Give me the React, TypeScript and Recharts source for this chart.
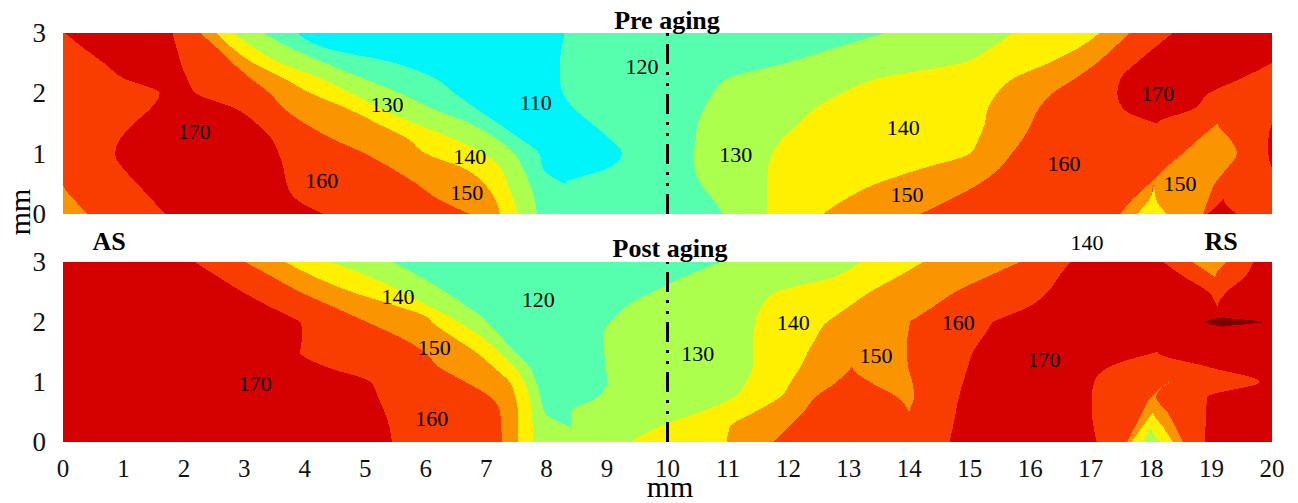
import React from "react";
import { ComposedChart, Area, XAxis, YAxis, ReferenceLine, ReferenceDot, CartesianGrid } from "recharts";

// depth levels (mm) at which the contour edges were read
const preDepth = [0, 0.25, 0.5, 0.75, 1, 1.25, 1.5, 1.75, 2, 2.25, 2.5, 2.75, 3];
const postDepth = [0, 0.25, 0.5, 0.75, 1, 1.25, 1.5, 1.75, 1.92, 2, 2.08, 2.25, 2.5, 2.75, 3];

// Pre aging: x position (mm) of each contour edge, left to right, per depth level
const pre00 = [0.41, 0.17, 0, 0, 0, 0, 0, 0, 0, 0, 0, 0, 0];
const pre01 = [1.69, 1.46, 1.23, 1.0, 0.86, 0.95, 1.17, 1.45, 1.6, 1.0, 0.68, 0.34, 0.03];
const pre02 = [4.3, 3.85, 3.7, 3.65, 3.57, 3.45, 3.2, 2.85, 2.2, 2.05, 1.95, 1.88, 1.81];
const pre03 = [6.73, 6.2, 5.85, 5.45, 5.0, 4.45, 4.0, 3.65, 3.42, 3.1, 2.81, 2.55, 2.27];
const pre04 = [7.23, 7.15, 6.97, 6.65, 6.0, 5.7, 5.2, 4.7, 4.1, 3.65, 3.15, 2.8, 2.54];
const pre05 = [7.53, 7.45, 7.35, 7.25, 6.96, 6.45, 5.82, 5.25, 4.78, 4.26, 3.6, 3.16, 2.81];
const pre06 = [7.84, 7.8, 7.72, 7.62, 7.47, 7.17, 6.74, 6.1, 5.58, 4.96, 4.34, 3.77, 3.31];
const pre07 = [8.3, 8.3, 8.3, 7.94, 7.88, 7.56, 7.2, 6.83, 6.48, 6.15, 5.5, 4.35, 3.87];
const pre08 = [8.3, 8.3, 8.3, 9.0, 9.25, 9.04, 8.75, 8.45, 8.27, 8.22, 8.22, 8.25, 8.3];
const pre09 = [10.92, 10.75, 10.55, 10.45, 10.43, 10.47, 10.5, 10.6, 10.75, 11.0, 11.95, 12.76, 13.6];
const pre10 = [11.65, 11.65, 11.65, 11.66, 11.74, 11.9, 12.17, 12.45, 12.87, 13.5, 14.85, 15.35, 15.7];
const pre11 = [12.57, 12.95, 13.45, 14.2, 15.0, 15.15, 15.25, 15.3, 15.45, 15.73, 16.3, 16.8, 17.15];
const pre12 = [14.18, 14.7, 15.16, 15.49, 15.69, 15.88, 16.02, 16.14, 16.37, 16.75, 17.1, 17.38, 17.65];
const pre13 = [17.2, 17.3, 17.5, 17.8, 18.1, 18.1, 18.1, 17.53, 17.44, 17.5, 17.75, 18.05, 18.36];
const pre14 = [17.2, 17.3, 17.5, 17.8, 18.1, 18.1, 18.1, 18.72, 18.95, 19.5, 20, 20, 20];
const pre15 = [17.49, 17.7, 17.97, 18.22, 18.52, 18.8, 19.1, 19.3, 19.5, 19.8, 20, 20, 20];
const pre16 = [17.77, 17.98, 18.05, 18.4, 18.9, 19.1, 19.1, 19.3, 19.5, 19.8, 20, 20, 20];
const pre17 = [18.26, 18.08, 18.05, 18.4, 18.9, 19.1, 19.1, 19.3, 19.5, 19.8, 20, 20, 20];
const pre18 = [18.86, 18.95, 19.05, 19.25, 19.42, 19.3, 19.1, 19.3, 19.5, 19.8, 20, 20, 20];
const pre19 = [18.94, 19.2, 19.5, 19.6, 19.7, 19.7, 19.5, 19.5, 19.6, 19.8, 20, 20, 20];
const pre20 = [19.42, 19.2, 19.5, 19.6, 19.7, 19.7, 19.5, 19.5, 19.6, 19.8, 20, 20, 20];
const pre21 = [20, 20, 20, 20, 19.94, 19.94, 20, 20, 20, 20, 20, 20, 20];
// hardness class of each band between the edges
const preBands = [150, 160, 170, 160, 150, 140, 130, 120, 110, 120, 130, 140, 150, 160, 170, 160, 150, 140, 150, 160, 170, 160, 170];

// Post aging
const post00 = [5.44, 5.4, 5.32, 5.21, 5.09, 4.36, 3.92, 3.96, 3.95, 3.92, 3.78, 3.43, 2.97, 2.57, 2.18];
const post01 = [7.26, 7.25, 7.23, 7.07, 6.66, 6.22, 5.98, 5.57, 5.2, 5.03, 4.85, 4.48, 3.92, 3.47, 3.01];
const post02 = [7.53, 7.53, 7.53, 7.48, 7.39, 7.12, 6.83, 6.45, 6.2, 6.1, 6.03, 5.57, 4.78, 4.17, 3.67];
const post03 = [7.78, 7.77, 7.75, 7.72, 7.63, 7.47, 7.2, 6.93, 6.67, 6.53, 6.4, 6.07, 5.62, 5.08, 4.42];
const post04 = [8.4, 8.4, 7.96, 7.9, 7.82, 7.72, 7.48, 7.25, 7.09, 7.01, 6.94, 6.7, 6.33, 5.92, 5.46];
const post05 = [8.4, 8.4, 8.4, 8.85, 9.0, 8.98, 8.95, 8.93, 8.98, 9.05, 9.12, 9.3, 9.74, 10.27, 10.87];
const post06 = [9.38, 9.85, 10.55, 11.1, 11.3, 11.41, 11.41, 11.42, 11.44, 11.46, 11.47, 11.55, 11.8, 12.75, 13.18];
const post07 = [10.98, 11.03, 11.44, 11.87, 12.04, 12.2, 12.32, 12.47, 12.56, 12.64, 12.75, 12.99, 13.35, 13.8, 14.23];
const post08 = [11.75, 12.0, 12.25, 12.45, 12.8, 13.05, 13.2, 13.4, 13.5, 13.55, 13.6, 13.75, 14.0, 14.3, 14.9];
const post09 = [14.0, 14.0, 14.0, 13.8, 13.35, 13.05, 13.2, 13.4, 13.5, 13.55, 13.6, 13.75, 14.0, 14.3, 14.9];
const post10 = [14.0, 14.0, 14.0, 14.08, 14.05, 13.98, 13.96, 13.97, 14.0, 14.01, 14.13, 14.39, 14.76, 15.28, 15.83];
const post11 = [14.67, 14.72, 14.77, 14.82, 14.89, 14.97, 15.05, 15.22, 15.33, 15.38, 15.57, 15.97, 16.29, 16.47, 16.66];
const post12 = [17.1, 17.05, 17.02, 17.02, 17.06, 17.3, 18.1, 19.2, 19.2, 18.89, 19.2, 19.1, 18.95, 18.55, 18.2];
const post13 = [17.6, 17.73, 17.86, 18.0, 18.3, 18.3, 18.1, 19.2, 19.2, 18.89, 19.2, 19.1, 19.1, 19.06, 18.68];
const post14 = [17.68, 17.85, 18.03, 18.04, 18.3, 18.3, 18.1, 19.2, 19.2, 18.89, 19.2, 19.1, 19.1, 19.06, 19.0];
const post15 = [17.85, 18.0, 18.03, 18.04, 18.3, 18.3, 18.1, 19.2, 19.2, 18.89, 19.2, 19.1, 19.1, 19.06, 19.0];
const post16 = [18.15, 18.0, 18.03, 18.04, 18.3, 18.3, 18.1, 19.2, 19.2, 18.89, 19.2, 19.1, 19.1, 19.06, 19.0];
const post17 = [18.36, 18.2, 18.03, 18.04, 18.3, 18.3, 18.1, 19.2, 19.2, 18.89, 19.2, 19.1, 19.1, 19.06, 19.0];
const post18 = [18.53, 18.4, 18.27, 18.08, 18.3, 18.3, 18.1, 19.2, 19.2, 18.89, 19.2, 19.1, 19.1, 19.06, 19.25];
const post19 = [18.89, 18.9, 18.91, 18.93, 19.8, 18.95, 18.1, 19.2, 19.2, 18.89, 19.2, 19.1, 19.25, 19.55, 19.69];
const post20 = [18.89, 18.9, 18.91, 18.93, 19.8, 18.95, 18.1, 19.2, 19.2, 18.89, 19.2, 19.1, 19.25, 19.55, 19.69];
const post21 = [18.89, 18.9, 18.91, 18.93, 19.8, 18.95, 18.1, 19.2, 19.2, 19.85, 19.2, 19.1, 19.25, 19.55, 19.69];
const postBands = [170, 160, 150, 140, 130, 120, 130, 140, 150, 160, 150, 160, 170, 160, 150, 140, 130, 140, 150, 160, 170, 180, 170];

// contour labels: [x mm, depth mm, text]
const preLabels: [number, number, string][] = [
  [2.17, 1.36, "170"], [4.28, 0.56, "160"], [5.36, 1.81, "130"], [6.73, 0.96, "140"],
  [6.68, 0.35, "150"], [7.82, 1.84, "110"], [9.58, 2.44, "120"], [11.13, 0.99, "130"],
  [13.9, 1.44, "140"], [13.96, 0.33, "150"], [16.56, 0.83, "160"], [18.11, 1.99, "170"],
  [18.48, 0.51, "150"],
];
const postLabels: [number, number, string][] = [
  [3.18, 0.97, "170"], [5.54, 2.43, "140"], [6.14, 1.58, "150"], [6.1, 0.4, "160"],
  [7.86, 2.38, "120"], [10.5, 1.48, "130"], [12.08, 2.0, "140"], [13.45, 1.45, "150"],
  [14.81, 2.0, "160"], [16.23, 1.37, "170"],
];

const xTicks = [0, 1, 2, 3, 4, 5, 6, 7, 8, 9, 10, 11, 12, 13, 14, 15, 16, 17, 18, 19, 20];
const yTicks = [0, 1, 2, 3];

const shade: Record<number, string> = {
  110: "#00f5fb", 120: "#56ffae", 130: "#adff4e", 140: "#fff000",
  150: "#fa9400", 160: "#f93c00", 170: "#d50000", 180: "#7c0000",
};

const serif = "'Liberation Serif', 'Times New Roman', serif";

// one row per depth: band k spans [edge k-1, edge k]; a band that is empty here
// and at both neighbouring depths is left out (null)
function buildRows(depth: number[], edges: number[][]) {
  const spans = depth.map((_, i) => {
    const xs = [0, ...edges.map((e) => e[i]), 20];
    return xs.slice(0, -1).map((x, k) => [x, xs[k + 1]]);
  });
  const empty = (i: number, k: number) =>
    i < 0 || i >= depth.length || spans[i][k][1] - spans[i][k][0] < 1e-6;
  return depth.map((v, i) => {
    const row: Record<string, any> = { v };
    spans[i].forEach((s, k) => {
      row["b" + k] = empty(i, k) && empty(i - 1, k) && empty(i + 1, k) ? null : s;
    });
    return row;
  });
}

const preRows = buildRows(preDepth, [
  pre00, pre01, pre02, pre03, pre04, pre05, pre06, pre07, pre08, pre09, pre10,
  pre11, pre12, pre13, pre14, pre15, pre16, pre17, pre18, pre19, pre20, pre21,
]);
const postRows = buildRows(postDepth, [
  post00, post01, post02, post03, post04, post05, post06, post07, post08, post09, post10,
  post11, post12, post13, post14, post15, post16, post17, post18, post19, post20, post21,
]);

function Panel({
  rows, bands, labels, showX, top, height, margin,
}: {
  rows: any[]; bands: number[]; labels: [number, number, string][];
  showX: boolean; top: number; height: number;
  margin: { top: number; right: number; bottom: number; left: number };
}) {
  return (
    <div style={{ position: "absolute", left: 0, top }}>
      <ComposedChart width={1298} height={height} data={rows} layout="vertical" margin={margin}>
        <CartesianGrid horizontal={false} vertical={false} fill={shade[160]} fillOpacity={1} />
        <XAxis
          type="number"
          domain={[0, 20]}
          ticks={xTicks}
          allowDataOverflow
          hide={!showX}
          height={30}
          axisLine={false}
          tickLine={false}
          tickSize={0}
          tickMargin={26}
          interval={0}
          tick={(p: any) => (
            <text x={p.x} y={p.y} textAnchor="middle" dominantBaseline="central"
              fontSize={25} fontFamily={serif} fill="#111">{p.payload.value}</text>
          )}
        />
        <YAxis
          type="number"
          dataKey="v"
          domain={[0, 3]}
          ticks={yTicks}
          reversed
          allowDataOverflow
          width={63}
          axisLine={false}
          tickLine={false}
          tickSize={0}
          tickMargin={17}
          interval={0}
          tick={(p: any) => (
            <text x={p.x} y={p.y} textAnchor="end" dominantBaseline="central"
              fontSize={27} fontFamily={serif} fill="#111">{p.payload.value}</text>
          )}
        />
        {bands.map((b, k) => (
          <Area
            key={k}
            dataKey={"b" + k}
            type="monotone"
            fill={shade[b]}
            fillOpacity={1}
            stroke="none"
            activeDot={false}
            dot={false}
            isAnimationActive={false}
          />
        ))}
        <ReferenceLine x={10} stroke="#000" strokeWidth={3} strokeDasharray="20 8 3 8 3 8" />
        {labels.map(([x, y, t], i) => (
          <ReferenceDot
            key={i}
            x={x}
            y={y}
            r={0}
            shape={(p: any) => (
              <text x={p.cx} y={p.cy} textAnchor="middle" dominantBaseline="central"
                fontSize={22} fontFamily={serif} fill="#000">{t}</text>
            )}
          />
        ))}
      </ComposedChart>
    </div>
  );
}

export default function App() {
  return (
    <div style={{ position: "absolute", left: 0, top: 0, width: 1298, height: 503, background: "#fff" }}>
      <style>{".recharts-area-area { shape-rendering: crispEdges; }"}</style>
      <Panel rows={preRows} bands={preBands} labels={preLabels} showX={false} top={0} height={230}
        margin={{ top: 33, right: 26, bottom: 16, left: 0 }} />
      <Panel rows={postRows} bands={postBands} labels={postLabels} showX top={230} height={273}
        margin={{ top: 32, right: 26, bottom: 31, left: 0 }} />
      <svg width={1298} height={503} style={{ position: "absolute", left: 0, top: 0, pointerEvents: "none" }}>
        <g fontFamily={serif} fill="#000">
          <text x={667} y={28.5} textAnchor="middle" fontSize={26} fontWeight="bold">Pre aging</text>
          <text x={670} y={257} textAnchor="middle" fontSize={26} fontWeight="bold">Post aging</text>
          <text x={109} y={250} textAnchor="middle" fontSize={26} fontWeight="bold">AS</text>
          <text x={1221} y={250} textAnchor="middle" fontSize={26} fontWeight="bold">RS</text>
          <text x={1087} y={250} textAnchor="middle" fontSize={22}>140</text>
          <text x={670} y={497} textAnchor="middle" fontSize={30}>mm</text>
          <text x={30} y={212} textAnchor="middle" fontSize={30} transform="rotate(-90 30 212)">mm</text>
        </g>
      </svg>
    </div>
  );
}
